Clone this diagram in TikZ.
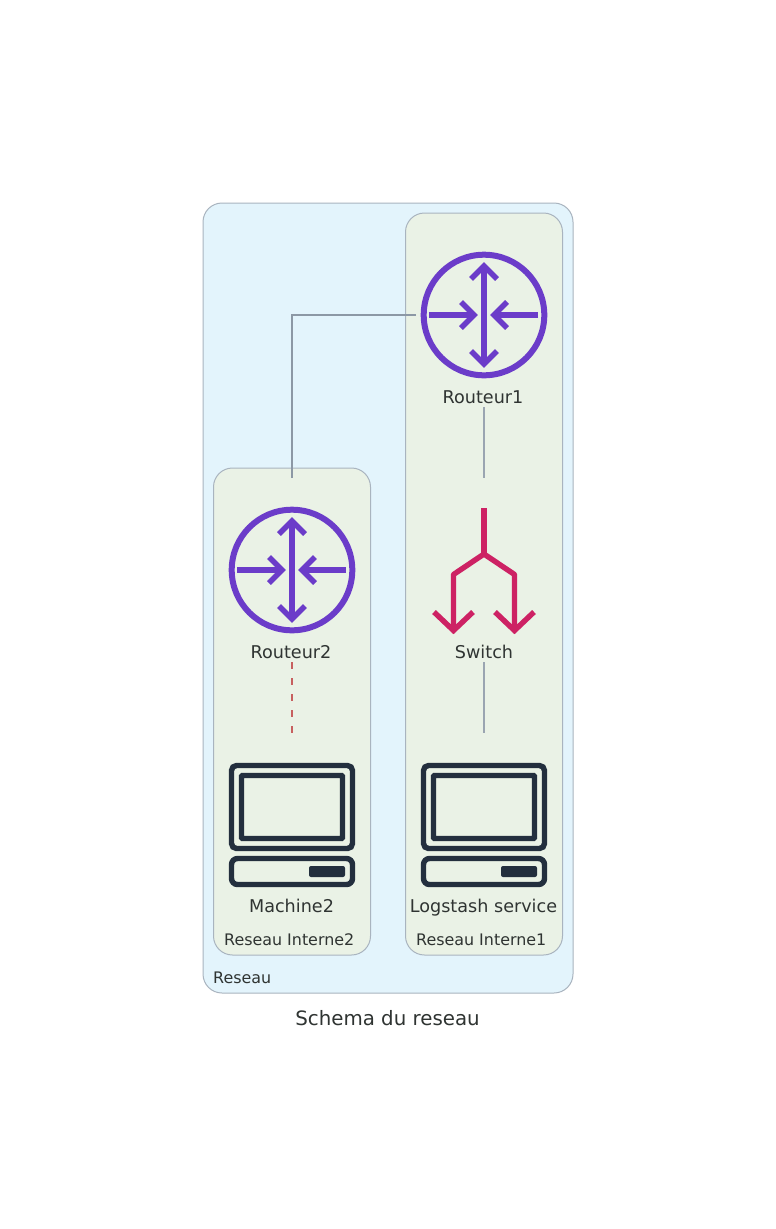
\documentclass[tikz,border=0pt]{standalone}
\usepackage{fontspec}
\setmainfont{DejaVu Sans}
\definecolor{outerfill}{HTML}{E3F4FC}
\definecolor{innerfill}{HTML}{EAF2E6}
\definecolor{boxline}{HTML}{A9B4BF}
\definecolor{routerc}{HTML}{6B3CC9}
\definecolor{switchc}{HTML}{CD2264}
\definecolor{pcc}{HTML}{232F3E}
\definecolor{txt}{HTML}{2F3432}
\definecolor{linkc}{HTML}{9AA5B1}
\definecolor{uplink}{HTML}{8C98A5}
\definecolor{dashc}{HTML}{C7605F}
\tikzset{
  group/.style={draw=boxline,line width=1pt,rounded corners=19pt},
  slot/.style={minimum width=136pt,minimum height=184pt,inner sep=0pt,outer sep=0pt},
  lab/.style={text=txt,inner sep=0pt,anchor=base,font=\fontsize{17.6}{20}\selectfont},
  grouplab/.style={text=txt,inner sep=0pt,anchor=base west,font=\fontsize{15.9}{18}\selectfont},
  link/.style={draw=linkc,line width=1.6pt},
  routericon/.style={draw=routerc,line width=5.5pt,line join=miter,line cap=butt},
  switchicon/.style={draw=switchc,line width=5.4pt,line join=round},
  pcicon/.style={draw=pcc,line width=5.4pt}
}
\newcommand{\routerglyph}[2]{%
  \begin{scope}[shift={(#1,#2)}]
    \draw[routericon,line width=6pt] (0,0) circle[radius=60.3];
    \draw[routericon] (0,-49) -- (0,49);
    \draw[routericon] (-13,-36) -- (0,-49) -- (13,-36);
    \draw[routericon] (-13,36) -- (0,49) -- (13,36);
    \draw[routericon] (-54.7,0) -- (-10,0);
    \draw[routericon] (-23,-13) -- (-10,0) -- (-23,13);
    \draw[routericon] (54,0) -- (10,0);
    \draw[routericon] (23,-13) -- (10,0) -- (23,13);
  \end{scope}}
\newcommand{\pcglyph}[2]{%
  \begin{scope}[shift={(#1,#2)}]
    \draw[pcicon,rounded corners=5pt] (-60.5,-59.5) rectangle (60.5,23.5);
    \draw[pcicon,rounded corners=1pt] (-50.5,-49.5) rectangle (50.5,13.5);
    \draw[pcicon,rounded corners=6pt] (-60.5,33.5) rectangle (60.5,59.5);
    \fill[pcc,rounded corners=2pt] (17,41) rectangle (53,52);
  \end{scope}}
\begin{document}
\begin{tikzpicture}[x=1pt,y=-1pt]
\useasboundingbox (0,0) rectangle (776,1229);
\fill[white] (0,0) rectangle (776,1229);
\path[group,fill=outerfill] (203,203) rectangle (573,993);
\path[group,fill=innerfill] (405.5,213) rectangle (562.5,955);
\path[group,fill=innerfill] (213.5,468) rectangle (370.5,955);
\node[slot] (r1) at (484,315) {};
\node[slot] (sw) at (484,570) {};
\node[slot] (pc1) at (484,825) {};
\node[slot] (r2) at (292,570) {};
\node[slot] (pc2) at (292,825) {};
\routerglyph{484}{315}
\routerglyph{292}{570}
\draw[switchicon] (484,508) -- (484,554);
\draw[switchicon] (453.5,630) -- (453.5,574.5) -- (484,554) -- (514.5,574.5) -- (514.5,630);
\draw[switchicon,line join=miter] (434,612) -- (453.5,630.5) -- (473,612);
\draw[switchicon,line join=miter] (495,612) -- (514.5,630.5) -- (534,612);
\pcglyph{484}{825}
\pcglyph{292}{825}
\node[lab] (l1) at (483,403) {Routeur1};
\node[lab] (l2) at (484,658) {Switch};
\node[lab] (l3) at (483.5,912) {Logstash service};
\node[lab] (l4) at (291,658) {Routeur2};
\node[lab] (l5) at (291.5,912) {Machine2};
\node[grouplab] (g1) at (416,945.5) {Reseau Interne1};
\node[grouplab] (g2) at (224,945.5) {Reseau Interne2};
\node[grouplab] (g3) at (213,983.5) {Reseau};
\node[text=txt,inner sep=0pt,anchor=base,font=\fontsize{19.8}{24}\selectfont] (title) at (387.5,1025) {Schema du reseau};
\draw[draw=uplink,line width=1.5pt] (r1.west) -| (r2.north);
\draw[link] (r1.south) -- (sw.north);
\draw[link] (sw.south) -- (pc1.north);
\draw[draw=dashc,line width=1.6pt,dash pattern=on 7pt off 9pt] (r2.south) -- (pc2.north);
\end{tikzpicture}
\end{document}
